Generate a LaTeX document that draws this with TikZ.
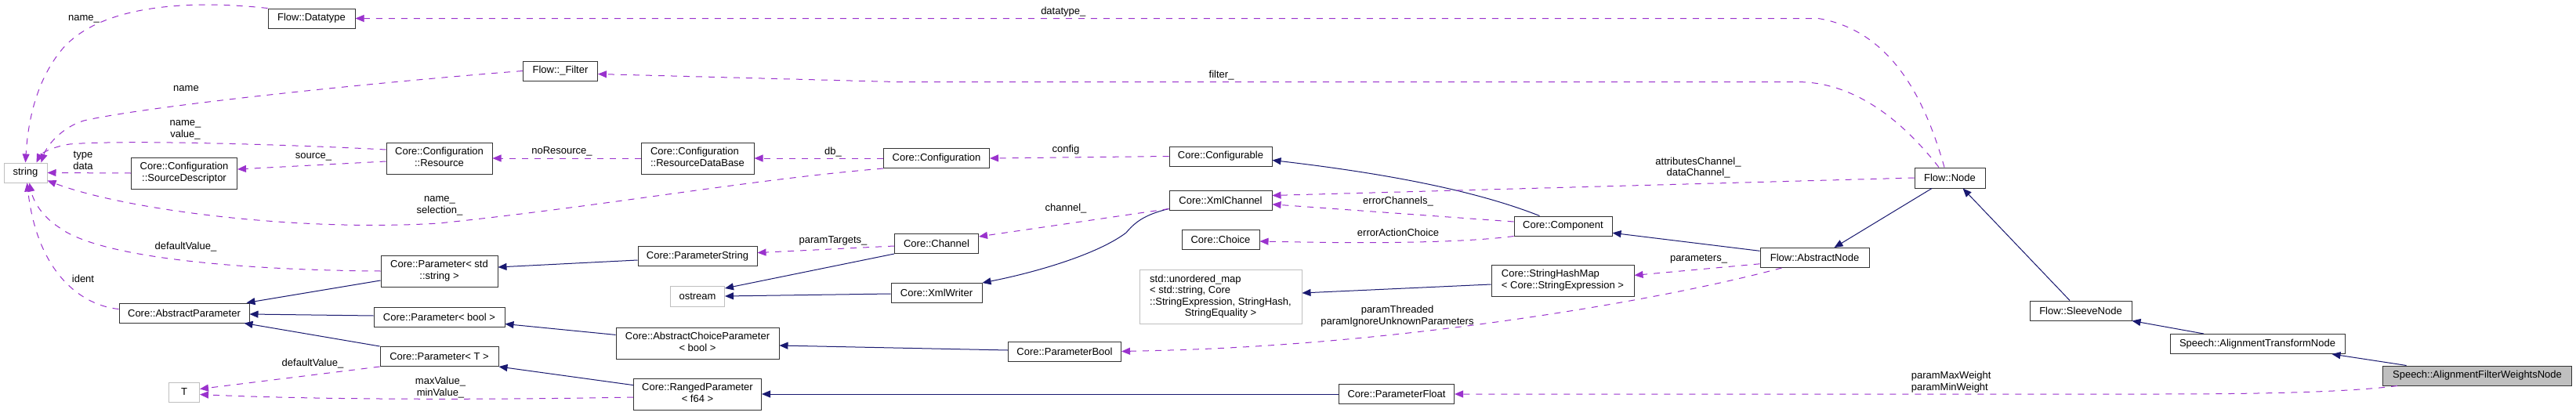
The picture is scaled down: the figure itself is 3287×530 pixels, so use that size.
\documentclass[tikz,border=0pt]{standalone}
\usepackage{fontspec}
\setmainfont{Liberation Sans}
\usetikzlibrary{arrows.meta}
\definecolor{usec}{HTML}{9A32CD}
\definecolor{inhc}{HTML}{191970}
\definecolor{gray75}{HTML}{BFBFBF}
\definecolor{bord}{HTML}{333333}
\newcommand\dgfont{\fontsize{13}{14.6}\selectfont}
\newcommand\lastc[1]{\multicolumn{1}{@{}c@{}}{#1}}
\newcommand\twol[2]{\begin{tabular}{@{}l@{}}#1\\\lastc{#2}\end{tabular}}
\tikzset{
  cls/.style={draw=bord, line width=1pt, fill=white, inner sep=0pt, font=\dgfont, minimum height=25pt},
  ext/.style={cls, draw=gray75},
  use/.style={draw=usec, line width=1pt, dash pattern=on 8pt off 8pt, -{Triangle[length=11pt,width=9pt]}},
  inh/.style={draw=inhc, line width=1pt, -{Triangle[length=11pt,width=9pt]}},
  lbl/.style={font=\dgfont, inner sep=0pt, align=center},
}
\begin{document}
\begin{tikzpicture}[x=1pt,y=-1pt]
\fill[white] (0,0) rectangle (3287,530);
\useasboundingbox (0,0) rectangle (3287,530);
% nodes
\node[ext, minimum width=55pt] (str) at (32.5,220.5) {string};
\node[cls, minimum width=111pt] (dtype) at (397.5,23.5) {Flow::Datatype};
\node[cls, minimum width=95pt] (filt) at (715,90.5) {Flow::\_Filter};
\node[cls, minimum width=135pt, minimum height=40pt] (srcd) at (235,221) {\twol{Core::Configuration}{::SourceDescriptor}};
\node[cls, minimum width=135pt, minimum height=40pt] (res) at (560.5,202) {\twol{Core::Configuration}{::Resource}};
\node[cls, minimum width=144pt, minimum height=40pt] (rdb) at (890,202) {\twol{Core::Configuration}{::ResourceDataBase}};
\node[cls, minimum width=135pt] (conf) at (1195,202) {Core::Configuration};
\node[cls, minimum width=131pt] (cfgb) at (1557.5,199.5) {Core::Configurable};
\node[cls, minimum width=131pt] (xmlc) at (1557.5,255.5) {Core::XmlChannel};
\node[cls, minimum width=99pt] (choice) at (1557.5,306) {Core::Choice};
\node[ext, minimum width=207pt, minimum height=69pt] (umap) at (1557.5,379) {\begin{tabular}{@{}l@{}}std::unordered\_map\\< std::string, Core\\::StringExpression, StringHash,\\\lastc{StringEquality >}\end{tabular}};
\node[cls, minimum width=149pt, minimum height=40pt] (pstd) at (560.5,346) {\twol{Core::Parameter< std}{::string >}};
\node[cls, minimum width=166pt] (absp) at (235,399.5) {Core::AbstractParameter};
\node[cls, minimum width=167pt] (pbool) at (560.5,404.5) {Core::Parameter< bool >};
\node[cls, minimum width=151pt] (pT) at (560.5,455) {Core::Parameter< T >};
\node[ext, minimum width=39pt] (T) at (235,500.5) {T};
\node[cls, minimum width=152pt] (pstr) at (890,327) {Core::ParameterString};
\node[ext, minimum width=69pt, minimum height=26pt] (ostr) at (890,378) {ostream};
\node[cls, minimum width=208pt, minimum height=40pt] (acp) at (890,438) {\twol{Core::AbstractChoiceParameter}{< bool >}};
\node[cls, minimum width=163pt, minimum height=40pt] (rng) at (890,503) {\twol{Core::RangedParameter}{< f64 >}};
\node[cls, minimum width=107pt] (chan) at (1195,311) {Core::Channel};
\node[cls, minimum width=116pt] (xmlw) at (1195,374) {Core::XmlWriter};
\node[cls, minimum width=144pt] (pboolx) at (1358.5,448.5) {Core::ParameterBool};
\node[cls, minimum width=125pt] (comp) at (1994.5,288.5) {Core::Component};
\node[cls, minimum width=182pt, minimum height=40pt] (shm) at (1994,358) {\twol{Core::StringHashMap}{< Core::StringExpression >}};
\node[cls, minimum width=147pt] (pfloat) at (1782,503) {Core::ParameterFloat};
\node[cls, minimum width=90pt, minimum height=26pt] (fnode) at (2488,227) {Flow::Node};
\node[cls, minimum width=139pt] (fabs) at (2315.5,329) {Flow::AbstractNode};
\node[cls, minimum width=130pt] (sleeve) at (2655,396.5) {Flow::SleeveNode};
\node[cls, minimum width=223pt] (atn) at (2880.5,439) {Speech::AlignmentTransformNode};
\node[cls, fill=gray75, minimum width=241pt] (afwn) at (3161,479.5) {Speech::AlignmentFilterWeightsNode};
% usage edges into string
\draw[use] (dtype.north west) .. controls (245,0) and (130,5) .. (80,62) .. controls (48,100) and (36,150) .. (str.north);
\draw[use] (filt.west) .. controls (480,105) and (190,135) .. (107,154) .. controls (80,162) and (60,185) .. ([xshift=-8pt]str.north east);
\draw[use] ([yshift=11pt]res.west) .. controls (380,185) and (160,178) .. (89,184) .. controls (68,187) and (52,196) .. ([xshift=-14pt]str.north east);
\draw[use] (srcd.west) -- (str.east);
\draw[use] ([yshift=-4pt]res.west) -- ([yshift=5pt]srcd.east);
\draw[use] (conf.south west) .. controls (950,230) and (780,262) .. (560,285) .. controls (380,296) and (160,268) .. ([yshift=-10pt]str.east);
\draw[use] (pstd.west) .. controls (330,345) and (130,332) .. (75,290) .. controls (52,275) and (42,255) .. ([xshift=5pt]str.south);
\draw[use] ([yshift=5pt]absp.west) .. controls (105,390) and (48,350) .. ([xshift=2pt]str.south);
\draw[use] (pT.south west) -- ([yshift=4pt]T.east);
\draw[use] ([yshift=-4pt]rng.west) .. controls (650,510) and (420,511) .. ([yshift=-3pt]T.east);
% inheritance into AbstractParameter
\draw[inh] ([yshift=-12pt]pstd.west) -- ([xshift=-4pt]absp.north east);
\draw[inh] ([yshift=1.5pt]pbool.west) -- ([yshift=-1.5pt]absp.east);
\draw[inh] (pT.north west) -- ([xshift=-7pt]absp.south east);
% configuration chain
\draw[use] (rdb.west) -- (res.east);
\draw[use] (conf.west) -- (rdb.east);
\draw[use] (cfgb.west) -- (conf.east);
\draw[inh] ([yshift=-5pt]pstr.west) -- ([yshift=5pt]pstd.east);
\draw[use] ([yshift=-3pt]chan.west) -- ([yshift=4.4pt]pstr.east);
\draw[inh] ([yshift=-1pt]xmlw.west) -- (ostr.east);
\draw[inh] (chan.south west) -- ([yshift=10pt]ostr.east);
\draw[inh] ([yshift=-11pt]xmlc.west) .. controls (1460,274) and (1448,284) .. (1437,297) .. controls (1400,325) and (1320,348) .. (xmlw.north east);
\draw[use] ([yshift=-11pt]xmlc.west) -- ([yshift=9pt]chan.east);
\draw[inh] ([yshift=10.6pt]acp.west) -- ([yshift=-9pt]pbool.east);
\draw[inh] ([yshift=1.5pt]pboolx.west) -- ([yshift=-3pt]acp.east);
\draw[inh] ([yshift=11.4pt]rng.west) -- (pT.south east);
\draw[inh] (pfloat.west) -- (rng.east);
% component and flow
\draw[inh] ([xshift=-30pt]comp.north) .. controls (1900,250) and (1800,225) .. ([yshift=-5pt]cfgb.east);
\draw[use] ([yshift=5.5pt]comp.west) -- ([yshift=-5.3pt]xmlc.east);
\draw[use] (fnode.west) -- ([yshift=6pt]xmlc.east);
\draw[use] (comp.south west) .. controls (1850,312) and (1700,310) .. ([yshift=-2pt]choice.east);
\draw[inh] ([yshift=-5pt]shm.west) -- ([yshift=5pt]umap.east);
\draw[use] ([yshift=-7.8pt]fabs.west) -- ([yshift=6.6pt]shm.east);
\draw[use] ([xshift=28pt]fabs.south west) .. controls (2150,375) and (1950,410) .. (1750,430) .. controls (1600,445) and (1500,447) .. (pboolx.east);
\draw[inh] ([yshift=8.7pt]fabs.west) -- ([yshift=-8.8pt]comp.east);
\draw[inh] ([xshift=-23pt]fnode.south) -- ([xshift=25pt]fabs.north);
\draw[inh] ([xshift=-14pt]sleeve.north) -- ([xshift=16.6pt]fnode.south);
\draw[inh] ([xshift=-68.5pt]atn.north) -- (sleeve.south east);
\draw[inh] ([xshift=-90.4pt]afwn.north) -- ([xshift=95pt]atn.south);
\draw[use] ([xshift=19pt]afwn.south west) .. controls (3000,500) and (2900,503) .. (2750,503) -- (pfloat.east);
\draw[use] ([xshift=-7pt]fnode.north) .. controls (2460,140) and (2420,40) .. (2320,23.5) -- (dtype.east);
\draw[use] ([xshift=-14pt]fnode.north) .. controls (2440,170) and (2380,108) .. (2300,104.7) -- (1150,104.7) -- ([yshift=-4pt]filt.east);
% labels
\node[lbl] (l1) at (107,24) {name\_};
\node[lbl] (l2) at (237.5,113) {name};
\node[lbl] (l3) at (236.5,166) {name\_\\value\_};
\node[lbl] (l4) at (106,205) {type\\data};
\node[lbl] (l5) at (400,200) {source\_};
\node[lbl] (l6) at (561,262.5) {name\_\\selection\_};
\node[lbl] (l7) at (237,315) {defaultValue\_};
\node[lbl] (l8) at (106,356) {ident};
\node[lbl] (l9) at (399,464.5) {defaultValue\_};
\node[lbl] (l10) at (562,494.6) {maxValue\_\\minValue\_};
\node[lbl] (l11) at (717,193.6) {noResource\_};
\node[lbl] (l12) at (1063,193.6) {db\_};
\node[lbl] (l13) at (1360,191.5) {config};
\node[lbl] (l14) at (1063,307.4) {paramTargets\_};
\node[lbl] (l15) at (1360,266) {channel\_};
\node[lbl] (l16) at (1784,256.8) {errorChannels\_};
\node[lbl] (l17) at (2167,214) {attributesChannel\_\\dataChannel\_};
\node[lbl] (l18) at (1784,297.3) {errorActionChoice};
\node[lbl] (l19) at (2167.5,331) {parameters\_};
\node[lbl] (l20) at (1783,403.7) {paramThreaded\\paramIgnoreUnknownParameters};
\node[lbl, align=left, anchor=west] (l21) at (2438.6,487.4) {paramMaxWeight\\paramMinWeight};
\node[lbl] (l22) at (1356.8,15.2) {datatype\_};
\node[lbl] (l23) at (1558.6,96.3) {filter\_};
\end{tikzpicture}
\end{document}
